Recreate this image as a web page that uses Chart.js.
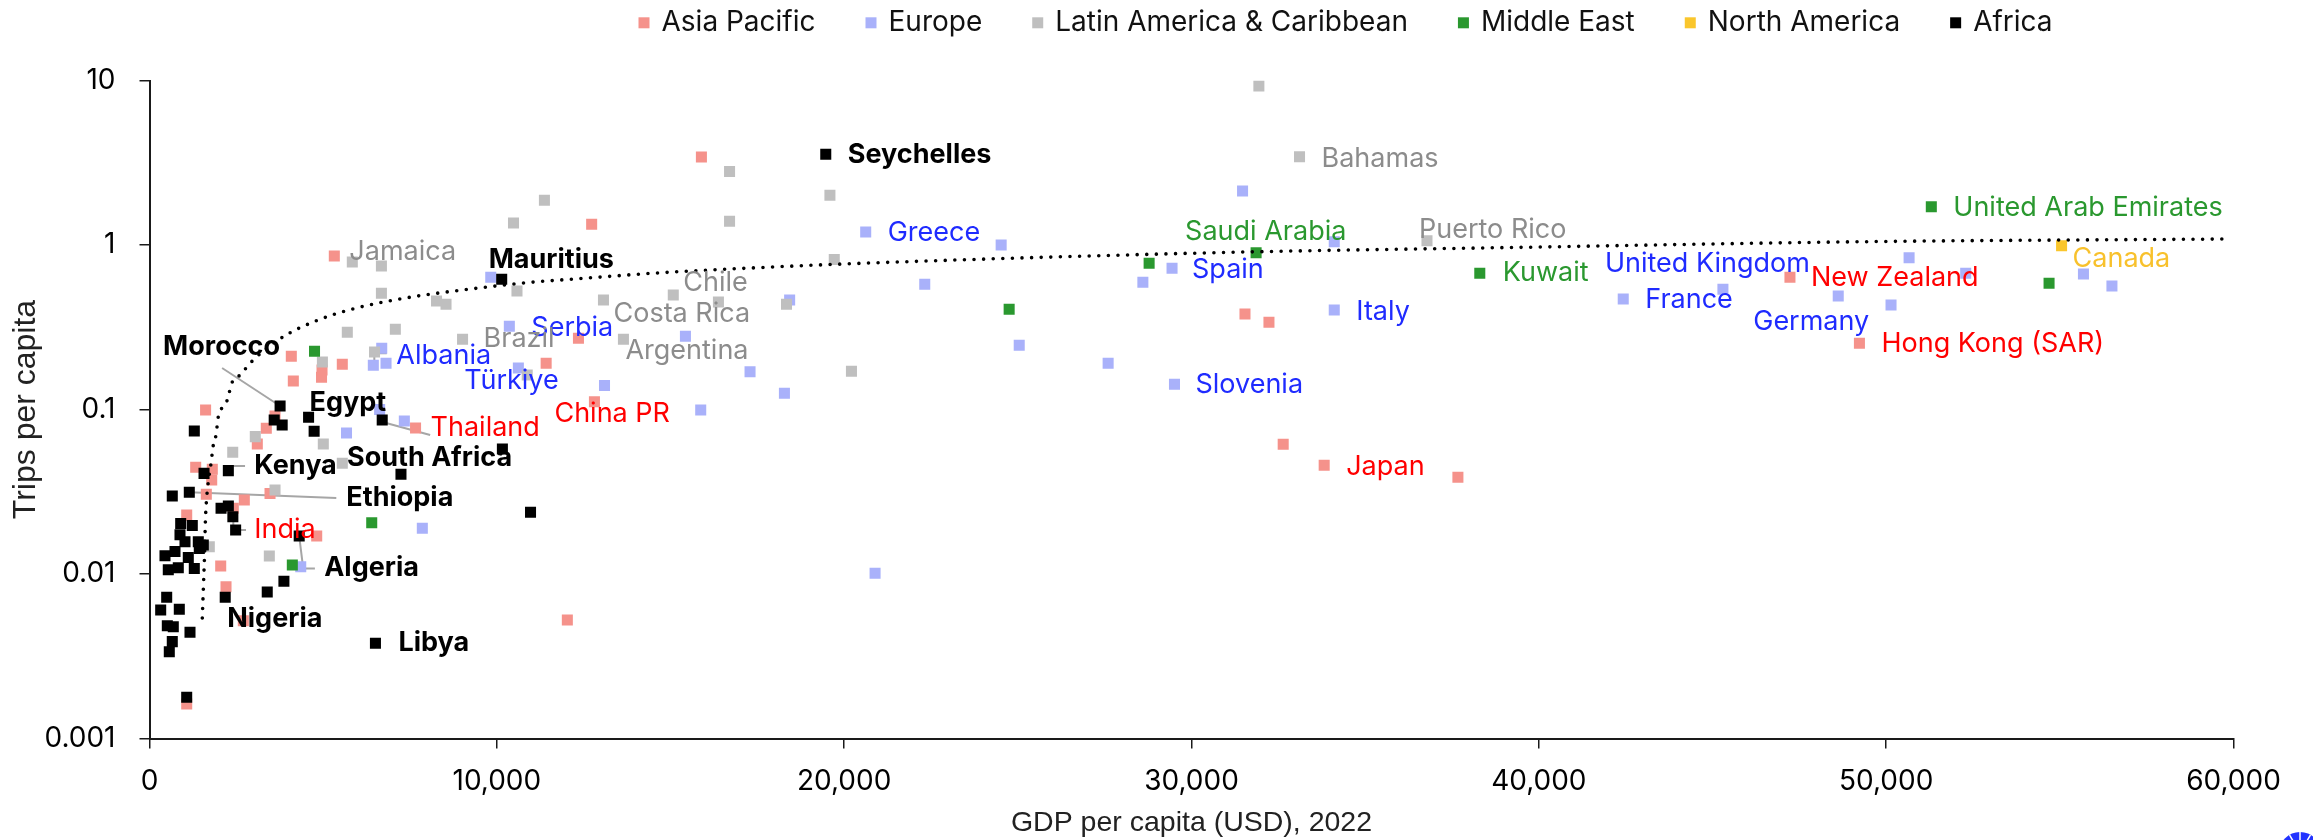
<!DOCTYPE html>
<html>
<head>
<meta charset="utf-8">
<script src="https://cdn.jsdelivr.net/npm/chart.js@4.4.1/dist/chart.umd.min.js"></script>
<style>
  html, body { margin: 0; padding: 0; background: #ffffff; }
  #wrap { width: 2313px; height: 840px; position: relative; }
</style>
</head>
<body>
<div id="wrap"><canvas id="chart" width="2313" height="840"></canvas></div>
<script>
// Region names (legend order)
const regionNames = ['Asia Pacific', 'Europe', 'Latin America & Caribbean', 'Middle East', 'North America', 'Africa'];

// Axis ticks
const xTickValues = [0, 10000, 20000, 30000, 40000, 50000, 60000];
const xTickLabels = ['0', '10,000', '20,000', '30,000', '40,000', '50,000', '60,000'];
const yTickValues = [0.001, 0.01, 0.1, 1, 10];
const yTickLabels = ['0.001', '0.01', '0.1', '1', '10'];

// Asia Pacific: GDP per capita (USD) and trips per capita; named countries first
const asiaNames = ['China PR', 'Thailand', 'India', 'Japan', 'New Zealand', 'Hong Kong (SAR)'];
const asiaGdp = [12810, 7660, 2413, 33820, 47230, 49230,
  15890, 12730, 5321, 12350, 4083, 5551, 11420, 4967, 4953, 4141, 1615, 3614, 3363, 3104,
  1330, 1808, 1791, 1636, 2730, 3470, 1071, 4814, 2050, 2203, 2701, 1071, 12030, 31540,
  32230, 32640, 37670];
const asiaTrips = [0.1115, 0.0772, 0.0251, 0.0458, 0.636, 0.2526,
  3.43, 1.336, 0.857, 0.271, 0.2106, 0.1883, 0.191, 0.1738, 0.157, 0.149, 0.0993, 0.0913, 0.0769, 0.0617,
  0.0445, 0.0433, 0.0373, 0.0305, 0.0282, 0.0309, 0.0228, 0.017, 0.0112, 0.00837, 0.0052, 0.00162, 0.00525, 0.3806,
  0.339, 0.0614, 0.0387];

// Europe
const europeNames = ['Greece', 'Spain', 'Italy', 'Slovenia', 'Serbia', 'Türkiye', 'Albania', 'United Kingdom', 'France', 'Germany'];
const europeGdp = [20620, 29440, 34110, 29510, 10360, 10620, 6444, 45300, 42430, 48620,
  9825, 24520, 31470, 28600, 34110, 22320, 18430, 25040, 27600, 17290, 18280, 15870, 20890,
  15430, 13100, 6686, 6810, 6626, 7337, 5672, 7855, 4354, 50140, 50660, 52290, 55680, 56500];
const europeTrips = [1.2, 0.722, 0.4026, 0.1423, 0.321, 0.1788, 0.1856, 0.538, 0.4695, 0.49,
  0.636, 1.0, 2.13, 0.593, 1.047, 0.577, 0.463, 0.246, 0.191, 0.1697, 0.1255, 0.0993, 0.0101,
  0.279, 0.14, 0.2355, 0.191, 0.1, 0.0851, 0.072, 0.019, 0.01107, 0.4318, 0.837, 0.673, 0.6664, 0.563];

// Latin America & Caribbean
const latamNames = ['Bahamas', 'Puerto Rico', 'Jamaica', 'Chile', 'Costa Rica', 'Brazil', 'Argentina'];
const latamGdp = [33110, 36780, 5839, 15080, 13070, 9013, 13645,
  31940, 19590, 16700, 16700, 11370, 10480, 19715, 6677, 6677, 10580, 8264, 8537, 16380, 18340,
  5695, 7078, 20210, 4978, 6479, 10875, 3046, 5004, 2396, 5551, 3614, 1722, 3450];
const latamTrips = [3.44, 1.062, 0.788, 0.4966, 0.463, 0.267, 0.267,
  9.26, 2.005, 2.8, 1.393, 1.87, 1.36, 0.816, 0.745, 0.5085, 0.525, 0.4568, 0.436, 0.45, 0.4366,
  0.2946, 0.3073, 0.171, 0.1944, 0.2236, 0.162, 0.0684, 0.0617, 0.0549, 0.0471, 0.0324, 0.01466, 0.01286];

// Middle East
const meNames = ['United Arab Emirates', 'Saudi Arabia', 'Kuwait'];
const meGdp = [51300, 31860, 38300, 28780, 54690, 24750, 4751, 6398, 4112];
const meTrips = [1.709, 0.898, 0.673, 0.774, 0.585, 0.4065, 0.2258, 0.0205, 0.01134];

// North America
const naNames = ['Canada'];
const naGdp = [55050];
const naTrips = [0.99];

// Africa
const africaNames = ['Mauritius', 'Seychelles', 'Morocco', 'Egypt', 'South Africa', 'Kenya', 'Ethiopia', 'Algeria', 'Nigeria', 'Libya'];
const africaGdp = [10140, 19470, 3760, 4580, 7240, 2270, 1146, 4310, 2180, 6505,
  3590, 3820, 4740, 6700, 1290, 10160, 10970, 1570, 656, 2060, 2270, 2400, 2480, 898, 1232,
  878, 1022, 1405, 1549, 1434, 446, 734, 1117, 541, 829, 1290, 3390, 3870, 495, 322, 858,
  513, 685, 1166, 656, 570, 1071];
const africaTrips = [0.619, 3.56, 0.105, 0.0897, 0.0404, 0.0425, 0.0314, 0.017, 0.00722, 0.00379,
  0.0863, 0.0805, 0.0737, 0.0863, 0.074, 0.0575, 0.0237, 0.0409, 0.0298, 0.0251, 0.0259, 0.0223, 0.0185, 0.0203, 0.0197,
  0.0173, 0.0157, 0.0157, 0.015, 0.0143, 0.0129, 0.0137, 0.0126, 0.0106, 0.0109, 0.0108, 0.00777, 0.00903, 0.00722, 0.00604, 0.0061,
  0.00485, 0.00478, 0.00442, 0.00388, 0.00337, 0.00178];

// Logarithmic trend line, sampled along its course
const trendGdp = [1520, 1549, 1589, 1607, 1635, 1693, 1771, 1837, 1915, 1981, 2079, 2240, 2367, 2606, 2989,
  3853, 4860, 5917, 7550, 9180, 10860, 12490, 14700, 17150, 19930, 22670, 25740, 32000, 38890, 49340, 59930];
const trendTrips = [0.0054, 0.008, 0.014, 0.0203, 0.0269, 0.0364, 0.0471, 0.0608, 0.07, 0.0904, 0.1017, 0.1142, 0.1443, 0.162, 0.2,
  0.277, 0.35, 0.412, 0.483, 0.538, 0.59, 0.627, 0.678, 0.722, 0.766, 0.803, 0.842, 0.911, 0.963, 1.047, 1.088];

// Styling
const markerColors = ['#F5928B', '#A9B1FA', '#BFBFBF', '#2A982F', '#FAC62C', '#000000'];
const labelColors = ['#FF0000', '#1F2BFF', '#8C8C8C', '#2A982F', '#F8C12C', '#000000'];
const FONT = 'Inter, "Noto Sans", sans-serif';
const TITLE_FONT = '"Liberation Sans", Arial, sans-serif';

// Label offsets (px from the marker centre: text left edge, text middle)
const labelOffset = {
  'Mauritius': [-13, -19], 'Seychelles': [22, 1], 'Morocco': [-117, -59], 'Egypt': [1, -14],
  'South Africa': [-54, -16], 'Kenya': [26, -5], 'Ethiopia': [157, 6], 'Algeria': [25, 32],
  'Nigeria': [2, 22], 'Libya': [23, 0],
  'China PR': [-40, 12], 'Thailand': [15, 0], 'India': [21, 22], 'Japan': [22, 2],
  'New Zealand': [21, 1], 'Hong Kong (SAR)': [22, 1],
  'Greece': [22, 1], 'Spain': [20, 2], 'Italy': [22, 2], 'Slovenia': [21, 1], 'Serbia': [22, 2],
  'Türkiye': [-54, 13], 'Albania': [23, -9], 'United Kingdom': [-118, -25], 'France': [22, 1],
  'Germany': [-85, 26],
  'Bahamas': [22, 2], 'Puerto Rico': [-8, -11], 'Jamaica': [-3, -10], 'Chile': [10, -12],
  'Costa Rica': [10, 14], 'Brazil': [21, 0], 'Argentina': [2, 12],
  'United Arab Emirates': [22, 1], 'Saudi Arabia': [-71, -21], 'Kuwait': [23, 0],
  'Canada': [11, 13]
};
// Leader lines (polyline offsets from the marker centre)
const leaderPaths = {
  'Morocco': [[-58, -38], [0, 0]],
  'Kenya': [[0, 0], [2.4, -4.7], [16.7, -4.7]],
  'Ethiopia': [[0, 0], [147, 5.7]],
  'Algeria': [[0, 0], [4, 32.3], [15.7, 32.3]],
  'India': [[0, 0], [0, 21.7], [12.7, 21.7]],
  'Thailand': [[-35, -6.5], [14.6, 7]],
  'Albania': [[1, 0], [1, -12], [13.4, -12]]
};

function points(xs, ys) {
  return xs.map((x, i) => ({ x: x, y: ys[i] }));
}

function regionSet(idx, names, xs, ys, order) {
  return {
    label: regionNames[idx],
    data: points(xs, ys),
    names: names,
    labelColor: labelColors[idx],
    labelBold: idx === 5,
    backgroundColor: markerColors[idx],
    borderWidth: 0,
    pointStyle: 'rect',
    pointRadius: 7.8,
    pointHoverRadius: 7.8,
    order: order
  };
}

const datasets = [
  {
    label: 'Trend',
    data: points(trendGdp, trendTrips),
    showLine: true,
    borderColor: '#000000',
    borderWidth: 3.6,
    borderDash: [0, 9.6],
    borderCapStyle: 'round',
    cubicInterpolationMode: 'monotone',
    pointRadius: 0,
    order: 0
  },
  regionSet(0, asiaNames, asiaGdp, asiaTrips, 6),
  regionSet(1, europeNames, europeGdp, europeTrips, 5),
  regionSet(2, latamNames, latamGdp, latamTrips, 4),
  regionSet(3, meNames, meGdp, meTrips, 3),
  regionSet(4, naNames, naGdp, naTrips, 2),
  regionSet(5, africaNames, africaGdp, africaTrips, 1)
];

const legendPlugin = {
  id: 'regionLegend',
  afterDraw(chart) {
    const ctx = chart.ctx;
    ctx.save();
    ctx.font = '28px ' + FONT;
    ctx.textBaseline = 'middle';
    ctx.textAlign = 'left';
    let x = 638.5;
    const y = 22.8;
    regionNames.forEach((name, i) => {
      ctx.fillStyle = markerColors[i];
      ctx.fillRect(x, y - 5.5, 11, 11);
      ctx.fillStyle = '#111111';
      ctx.fillText(name, x + 23, y - 0.5);
      x += 23 + ctx.measureText(name).width + 50;
    });
    ctx.restore();
  }
};

// Small emblem in the bottom-right corner
const emblemPlugin = {
  id: 'emblem',
  afterDraw(chart) {
    const ctx = chart.ctx;
    const cx = 2300, cy = 853, r = 21;
    ctx.save();
    ctx.beginPath();
    ctx.arc(cx, cy, r, Math.PI, 2 * Math.PI);
    ctx.closePath();
    ctx.fillStyle = '#2233FF';
    ctx.fill();
    ctx.strokeStyle = '#ffffff';
    ctx.lineWidth = 1.5;
    [-60, -30, 0, 30, 60].forEach(a => {
      const t = (a - 90) * Math.PI / 180;
      ctx.beginPath();
      ctx.moveTo(cx, cy);
      ctx.lineTo(cx + Math.cos(t) * r, cy + Math.sin(t) * r);
      ctx.stroke();
    });
    ctx.restore();
  }
};

const labelPlugin = {
  id: 'countryLabels',
  beforeDatasetsDraw(chart) {
    const ctx = chart.ctx;
    ctx.save();
    ctx.strokeStyle = '#A6A6A6';
    ctx.lineWidth = 2;
    chart.data.datasets.forEach((ds, di) => {
      if (!ds.names) return;
      const meta = chart.getDatasetMeta(di);
      ds.names.forEach((name, i) => {
        const path = leaderPaths[name];
        if (!path) return;
        const p = meta.data[i];
        ctx.beginPath();
        path.forEach((o, k) => {
          if (k === 0) ctx.moveTo(p.x + o[0], p.y + o[1]);
          else ctx.lineTo(p.x + o[0], p.y + o[1]);
        });
        ctx.stroke();
      });
    });
    ctx.restore();
  },
  afterDatasetsDraw(chart) {
    const ctx = chart.ctx;
    ctx.save();
    ctx.textBaseline = 'middle';
    ctx.textAlign = 'left';
    chart.data.datasets.forEach((ds, di) => {
      if (!ds.names) return;
      const meta = chart.getDatasetMeta(di);
      ctx.font = (ds.labelBold ? 'bold ' : '') + '27px ' + FONT;
      ctx.fillStyle = ds.labelColor;
      ds.names.forEach((name, i) => {
        const off = labelOffset[name] || [20, 0];
        const p = meta.data[i];
        ctx.fillText(name, p.x + off[0], p.y + off[1]);
      });
    });
    ctx.restore();
  }
};

new Chart(document.getElementById('chart'), {
  type: 'scatter',
  data: { datasets: datasets },
  options: {
    responsive: false,
    animation: false,
    devicePixelRatio: 1,
    layout: { padding: { top: 80.5, right: 79.5, left: 0, bottom: 0 } },
    plugins: {
      legend: { display: false },
      tooltip: { enabled: false }
    },
    scales: {
      x: {
        type: 'linear',
        min: 0,
        max: 60000,
        afterBuildTicks: s => { s.ticks = xTickValues.map(v => ({ value: v })); },
        afterFit: s => { s.height = 101.5; },
        border: { display: true, color: '#1A1A1A', width: 2 },
        grid: { display: true, drawOnChartArea: false, drawTicks: true, tickLength: 10, color: '#1A1A1A', lineWidth: 1.5 },
        ticks: {
          padding: 16, color: '#000000', maxRotation: 0, autoSkip: false,
          font: { family: FONT, size: 28 },
          callback: (v, i) => xTickLabels[i]
        },
        title: {
          display: true, text: 'GDP per capita (USD), 2022', color: '#222222',
          font: { family: TITLE_FONT, size: 28.5 }, padding: { top: 0, bottom: 0 }
        }
      },
      y: {
        type: 'logarithmic',
        min: 0.001,
        max: 10,
        afterBuildTicks: s => { s.ticks = yTickValues.map(v => ({ value: v })); },
        afterFit: s => { s.width = 149.5; },
        border: { display: true, color: '#1A1A1A', width: 2 },
        grid: { display: true, drawOnChartArea: false, drawTicks: true, tickLength: 10, color: '#1A1A1A', lineWidth: 1.5 },
        ticks: {
          padding: 24, color: '#000000', autoSkip: false,
          font: { family: FONT, size: 28 },
          callback: (v, i) => yTickLabels[i]
        },
        title: {
          display: true, text: 'Trips per capita', color: '#222222',
          font: { family: TITLE_FONT, size: 32 }, padding: { top: 6.8, bottom: 0 }
        }
      }
    }
  },
  plugins: [legendPlugin, labelPlugin, emblemPlugin]
});
</script>
</body>
</html>
